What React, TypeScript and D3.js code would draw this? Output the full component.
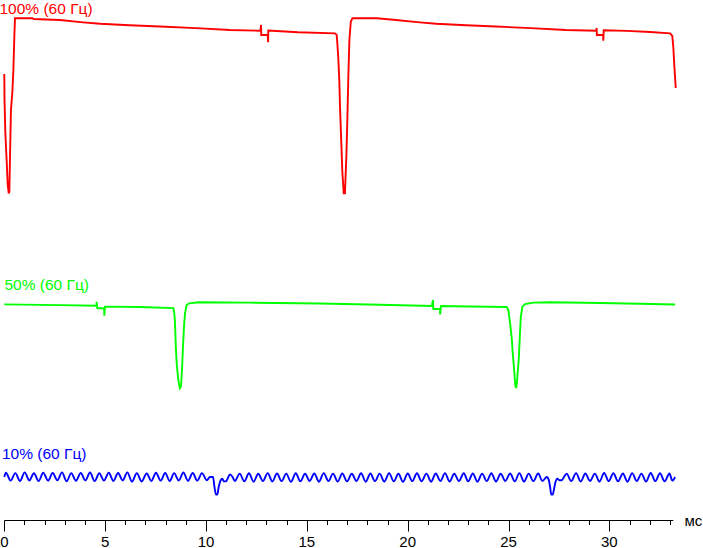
import React from 'react';
import * as d3 from 'd3';

// ---- data (time in ms, relative brightness in arbitrary units) ----
const majorTicks = [0, 5, 10, 15, 20, 25, 30];
const minorTicks = [1, 2, 3, 4, 6, 7, 8, 9, 11, 12, 13, 14, 16, 17, 18, 19, 21, 22, 23, 24, 26, 27, 28, 29, 31, 32, 33];
const axisUnit = 'мс';
const xDomain = [0, 33.17];

const seriesLabels = ['100% (60 Гц)', '50% (60 Гц)', '10% (60 Гц)'];

const redSeries: [number, number][] = [
  [0, 68.2], [0.01, 53.9], [0.05, 35.1], [0.12, 18.0], [0.17, 4.9], [0.22, 0], [0.25, 0.9],
  [0.28, 19.1], [0.33, 47.7], [0.40, 57.9], [0.45, 70.5], [0.50, 90.5], [0.53, 100], [1.4, 100],
  [1.45, 99.6], [2.76, 99.0], [3.9, 97.7], [4.75, 96.9], [6.2, 96.0], [7.72, 95.3], [9.5, 94.4],
  [11.19, 93.3], [12.70, 92.9], [12.73, 96.2], [12.74, 90.5], [13.06, 90.5], [13.08, 86.3],
  [13.09, 93.0], [14.56, 92.0], [16.40, 91.4], [16.48, 90.5], [16.51, 86.3], [16.56, 77.2],
  [16.61, 64.8], [16.65, 47.7], [16.71, 28.7], [16.76, 12.4], [16.83, 0.1], [16.89, 0.1],
  [16.91, 6.7], [16.96, 21.0], [17.01, 42.9], [17.06, 67.6], [17.11, 87.6], [17.18, 98.1],
  [17.26, 100], [18.47, 100], [19.42, 99.0], [20.6, 97.7], [21.41, 96.9], [22.9, 96.0],
  [24.38, 95.3], [26.1, 94.4], [27.85, 93.3], [29.36, 92.9], [29.37, 94.5], [29.38, 90.5],
  [29.69, 90.5], [29.70, 87.2], [29.72, 93.2], [30.87, 92.8], [32.02, 92.2], [33.01, 91.4],
  [33.12, 89.9], [33.17, 83.6], [33.22, 73.3], [33.29, 60.2],
];

const greenSeries: [number, number][] = [
  [0, 47.9], [2.76, 47.5], [4.57, 47.1], [4.58, 49.4], [4.61, 45.7], [4.95, 45.7], [4.96, 41.4],
  [4.99, 46.6], [6.73, 46.4], [8.38, 45.8], [8.43, 42.8], [8.46, 38.0], [8.51, 21.9], [8.56, 12.3],
  [8.63, 4.7], [8.70, 0], [8.76, 0.9], [8.81, 10.4], [8.86, 23.7], [8.91, 35.2], [8.96, 42.8],
  [9.04, 47.5], [9.17, 48.5], [9.62, 49.1], [12.18, 48.9], [15.65, 48.4], [18.63, 47.7],
  [21.19, 47.0], [21.26, 50.4], [21.27, 45.3], [21.60, 45.3], [21.61, 42.2], [21.65, 47.0],
  [23.09, 46.7], [24.91, 46.4], [24.99, 44.7], [25.08, 37.1], [25.16, 28.5], [25.21, 20.0],
  [25.28, 10.4], [25.34, 0.9], [25.39, 0.6], [25.44, 6.6], [25.51, 17.1], [25.56, 29.5],
  [25.61, 40.9], [25.69, 46.6], [25.82, 48.1], [26.23, 48.9], [27.06, 49.1], [29.54, 48.7],
  [31.52, 48.3], [33.26, 47.8],
];

const blueSeries: [number, number][] = [
  [0, 10.3], [0.08, 12.7], [0.31, 8.2], [0.55, 12.5], [0.78, 8.0], [1.01, 12.9], [1.24, 8.3],
  [1.47, 12.4], [1.70, 7.9], [1.93, 12.7], [2.17, 8.2], [2.40, 12.6], [2.63, 8.4], [2.86, 12.9],
  [3.09, 7.8], [3.32, 12.5], [3.55, 8.1], [3.79, 12.6], [4.02, 8.3], [4.25, 12.8], [4.48, 7.9],
  [4.71, 12.4], [4.94, 8.2], [5.18, 12.7], [5.41, 8.0], [5.64, 12.6], [5.87, 8.3], [6.10, 12.9],
  [6.33, 7.6], [6.57, 12.5], [6.81, 7.7], [7.06, 12.3], [7.29, 8.0], [7.52, 12.7], [7.75, 8.2],
  [7.98, 12.6], [8.20, 7.9], [8.42, 12.5], [8.65, 8.3], [8.88, 12.8], [9.11, 8.0], [9.34, 12.6],
  [9.57, 8.2], [9.80, 12.5], [10.04, 8.4],
  [10.20, 10.3], [10.35, 10.3], [10.41, 5.5], [10.50, 0.2], [10.56, 0.2], [10.63, 4.6],
  [10.73, 8.4], [10.81, 9.3], [10.89, 7.8], [10.99, 7.8], [11.11, 10.3], [11.19, 11.8],
  [11.32, 10.3], [11.43, 8.0],
  [11.67, 12.2], [11.90, 7.8], [12.13, 12.4], [12.36, 7.6], [12.59, 12.1], [12.82, 8.0],
  [13.06, 12.5], [13.29, 7.7], [13.52, 12.3], [13.75, 7.9], [13.98, 12.2], [14.21, 7.5],
  [14.45, 12.4], [14.68, 7.8], [14.91, 12.1], [15.14, 8.0], [15.37, 12.3], [15.60, 7.6],
  [15.84, 12.5], [16.07, 7.9], [16.30, 12.2], [16.53, 7.7], [16.76, 12.3], [16.99, 7.8],
  [17.23, 12.1], [17.46, 8.0], [17.69, 12.4], [17.92, 7.6], [18.15, 12.3], [18.38, 7.9],
  [18.61, 12.2], [18.84, 7.7], [19.08, 12.5], [19.31, 7.8], [19.54, 12.1], [19.77, 7.5],
  [20.00, 12.3], [20.23, 7.9], [20.46, 12.4], [20.69, 7.8], [20.93, 12.2], [21.16, 7.6],
  [21.39, 12.3], [21.62, 8.0], [21.85, 12.5], [22.08, 7.7], [22.31, 12.1], [22.54, 7.9],
  [22.78, 12.4], [23.00, 7.8], [23.23, 12.3], [23.46, 7.6], [23.69, 12.2], [23.92, 7.9],
  [24.15, 12.4], [24.38, 7.7], [24.61, 12.1], [24.84, 8.0], [25.08, 12.3], [25.31, 7.8],
  [25.54, 12.5], [25.77, 7.6], [26.00, 12.2], [26.23, 7.9], [26.47, 12.3], [26.68, 8.0],
  [26.90, 10.3], [27.00, 8.4], [27.06, 4.6], [27.12, 0.2], [27.19, 0.2], [27.26, 3.6],
  [27.32, 7.0], [27.42, 9.3], [27.52, 8.4], [27.64, 8.4], [27.75, 10.3],
  [27.88, 12.2], [28.11, 7.9], [28.35, 12.5], [28.58, 7.7], [28.81, 12.3], [29.04, 8.0],
  [29.28, 12.2], [29.51, 7.6], [29.74, 12.6], [29.97, 7.9], [30.20, 12.4], [30.43, 7.8],
  [30.67, 12.3], [30.90, 7.6], [31.13, 12.5], [31.36, 8.0], [31.59, 12.2], [31.82, 7.7],
  [32.05, 12.6], [32.28, 7.9], [32.51, 12.4], [32.74, 7.8], [32.98, 12.3], [33.12, 8.2],
  [33.26, 10.3],
];

// ---- layout ----
const W = 703;
const H = 548;
const FONT = '"Liberation Sans", Arial, Helvetica, sans-serif';

export default function App() {
  const x = d3.scaleLinear().domain(xDomain).range([4.3, 673.3]);
  const y = d3.scaleLinear().domain([0, 100]).range([0, -175.2]);

  const traces = [
    { data: redSeries, color: '#ff0000', base: 193.5, curve: d3.curveLinear, label: seriesLabels[0], lx: -0.5, ly: 13.5 },
    { data: greenSeries, color: '#00ff00', base: 388.3, curve: d3.curveLinear, label: seriesLabels[1], lx: 4.5, ly: 290 },
    { data: blueSeries, color: '#0000ff', base: 495, curve: d3.curveMonotoneX, label: seriesLabels[2], lx: 2, ly: 459 },
  ];

  const axisY = 520.5;

  return (
    <svg
      width={W}
      height={H}
      viewBox={`0 0 ${W} ${H}`}
      style={{ position: 'absolute', left: 0, top: 0, display: 'block', background: '#fff' }}
      fontFamily={FONT}
    >
      <rect x={0} y={0} width={W} height={H} fill="#fff" />
      {traces.map((t, i) => {
        const line = d3
          .line<[number, number]>()
          .x((d) => x(d[0]))
          .y((d) => y(d[1]))
          .curve(t.curve);
        return (
          <g key={i}>
            <text x={t.lx} y={t.ly} fill={t.color} fontSize={15.5}>
              {t.label}
            </text>
            <g transform={`translate(0,${t.base})`}>
              <path d={line(t.data) || ''} fill="none" stroke={t.color} strokeWidth={1.9} strokeLinejoin="miter" />
            </g>
          </g>
        );
      })}
      {/* axis */}
      <g>
        <line x1={x(xDomain[0])} x2={x(xDomain[1])} y1={axisY} y2={axisY} stroke="#000" strokeWidth={1} />
        {minorTicks.map((v) => (
          <line key={'m' + v} x1={Math.round(x(v)) + 0.5} x2={Math.round(x(v)) + 0.5} y1={axisY} y2={axisY + 4.5} stroke="#000" strokeWidth={1} />
        ))}
        {majorTicks.map((v) => (
          <g key={'M' + v}>
            <line x1={Math.round(x(v)) + 0.5} x2={Math.round(x(v)) + 0.5} y1={axisY} y2={axisY + 11} stroke="#000" strokeWidth={1} />
            <text x={x(v)} y={546.5} textAnchor="middle" fontSize={15} fill="#000">
              {v}
            </text>
          </g>
        ))}
        <text x={684.5} y={525.5} fontSize={15} fill="#000">
          {axisUnit}
        </text>
      </g>
    </svg>
  );
}
